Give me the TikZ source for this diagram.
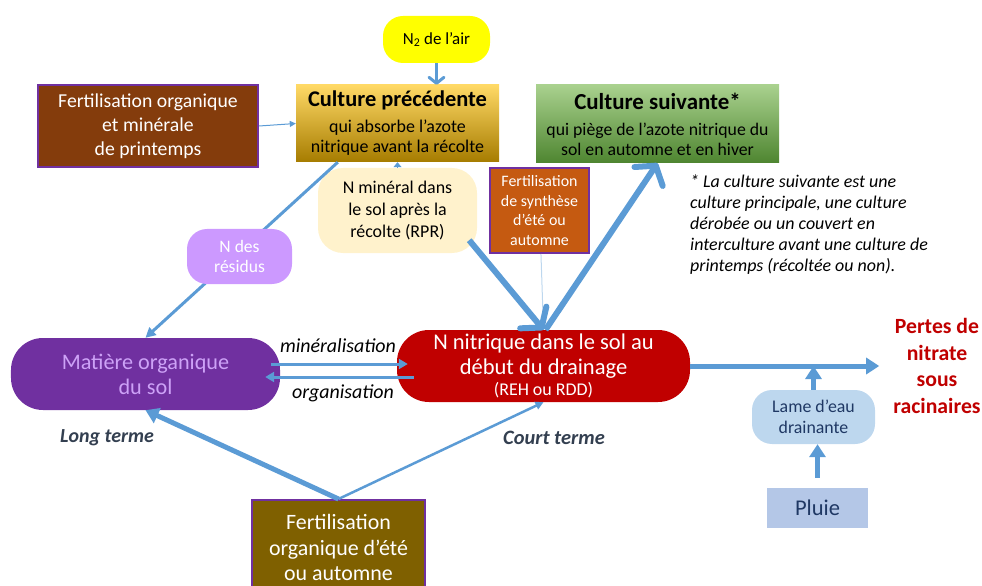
\documentclass[tikz,border=0pt]{standalone}
\usepackage{fontspec}
\setmainfont{Carlito}
\usetikzlibrary{arrows.meta}
\definecolor{flowblue}{HTML}{5B9BD5}
\definecolor{faintblue}{HTML}{BDD7EE}
\definecolor{airyellow}{HTML}{FFFF00}
\definecolor{precTop}{HTML}{FFD966}
\definecolor{precMid}{HTML}{FFC000}
\definecolor{precBot}{HTML}{A67C00}
\definecolor{suivTop}{HTML}{A9D18E}
\definecolor{suivMid}{HTML}{70AD47}
\definecolor{suivBot}{HTML}{4E8530}
\definecolor{fertbrown}{HTML}{843C0C}
\definecolor{fertorange}{HTML}{C55A11}
\definecolor{fertolive}{HTML}{7F6000}
\definecolor{fertpurple}{HTML}{7030A0}
\definecolor{rprcream}{HTML}{FFF2CC}
\definecolor{residlilac}{HTML}{CC99FF}
\definecolor{mospurple}{HTML}{7030A0}
\definecolor{mostext}{HTML}{CDA2F7}
\definecolor{nnred}{HTML}{C00000}
\definecolor{lameblue}{HTML}{BDD7EE}
\definecolor{pluieblue}{HTML}{B4C7E7}
\definecolor{navytext}{HTML}{1F3864}
\definecolor{termgray}{HTML}{333F50}
\newcommand\setfs[2]{\fontsize{#1}{#2}\selectfont}
\tikzset{
  boxnode/.style={rectangle, align=center, inner sep=0pt},
  pill/.style={boxnode, rounded corners=#1},
  fertbox/.style={boxnode, draw=fertpurple, line width=2bp, text=white},
  bigflow/.style={line width=6bp, -{Straight Barb[length=13bp,width=34bp,round]}},
  wideflow/.style={line width=5bp, -{Triangle[length=13bp,width=16bp]}},
  midflow/.style={line width=3bp, -{Triangle[length=9bp,width=10bp]}},
  thinflow/.style={line width=1bp, -{Triangle[length=6bp,width=6bp]}},
}
\begin{document}
\begin{tikzpicture}[x=1bp,y=-1bp]
      \useasboundingbox (0,0) rectangle (982,586);
      \clip (0,0) rectangle (982,586);
      \draw
        (436.5,39.5) node[pill=20bp, fill=airyellow, minimum width=107bp, minimum height=47bp, font=\setfs{17}{20}] (n2){N\textsubscript{2} de l’air}
        (397.5,123.5) node[boxnode, top color=precTop, middle color=precMid, bottom color=precBot, minimum width=203bp, minimum height=77bp, font=\setfs{18}{20}] (prec){{\setfs{22.5}{24}\bfseries Culture précédente}\\[6bp] qui absorbe l’azote\\ nitrique avant la récolte}
        (148,126) node[fertbox, fill=fertbrown, minimum width=220bp, minimum height=82bp, font=\setfs{19.8}{24}] (fertprint){Fertilisation organique\\ et minérale\\ de printemps}
        (657.5,124) node[boxnode, top color=suivTop, middle color=suivMid, bottom color=suivBot, minimum width=243bp, minimum height=78bp, font=\setfs{17.8}{20}] (suiv){{\setfs{23}{24}\bfseries Culture suivante*}\\[6bp] qui piège de l’azote nitrique du\\ sol en automne et en hiver}
        (690,175) node[anchor=north west, align=left, inner sep=0pt, font=\setfs{18}{21}\itshape] (note){* La culture suivante est une\\ culture principale, une culture\\ dérobée ou un couvert en\\ interculture avant une culture de\\ printemps (récoltée ou non).}
        (397.5,210.5) node[pill=25bp, fill=rprcream, minimum width=159bp, minimum height=85bp, font=\setfs{18}{22.5}] (rpr){N minéral dans\\ le sol après la\\ récolte (RPR)}
        (539.5,210.5) node[fertbox, fill=fertorange, minimum width=99bp, minimum height=85bp, font=\setfs{16}{20}] (fertsynth){Fertilisation\\ de synthèse\\ d’été ou\\ automne}
        (145.5,374) node[pill=32bp, fill=mospurple, text=mostext, minimum width=269bp, minimum height=72bp, font=\setfs{22.3}{25}] (mos){Matière organique\\ du sol}
        (543.5,366) node[pill=32bp, fill=nnred, text=white, minimum width=293bp, minimum height=72bp, font=\setfs{22.6}{25}] (nnit){N nitrique dans le sol au\\ début du drainage\\[-3bp] {\setfs{18}{18}(REH ou RDD)}}
        (937,366) node[boxnode, text=nnred, font=\setfs{21.8}{26.5}\bfseries] (pertes){Pertes de\\ nitrate\\ sous\\ racinaires}
        (813.5,417) node[pill=20bp, fill=lameblue, text=navytext, minimum width=123bp, minimum height=54bp, font=\setfs{17.9}{21}] (lame){Lame d’eau\\ drainante}
        (817.5,508) node[boxnode, fill=pluieblue, text=navytext, minimum width=101bp, minimum height=40bp, font=\setfs{22.6}{24}] (pluie){Pluie}
        (338.5,547.5) node[fertbox, fill=fertolive, minimum width=173bp, minimum height=95bp, font=\setfs{22}{26}] (fertete){Fertilisation\\ organique d’été\\ ou automne}
        (107,438) node[font=\setfs{20}{20}\bfseries\itshape, text=termgray] (longt){Long terme}
        (554,438) node[font=\setfs{20.5}{20}\bfseries\itshape, text=termgray] (courtt){Court terme}
        (338,346) node[font=\setfs{20}{20}\itshape] (minlab){minéralisation}
        (343,393) node[font=\setfs{20}{20}\itshape] (orglab){organisation};
      \begin{scope}[draw=flowblue]
        \draw[line width=3bp, -{Straight Barb[length=6bp,width=15bp,round]}] (n2) to (n2 |- prec.north);
        \draw[thinflow] (fertprint.east) to (prec.west);
        \draw[thinflow, -{Triangle[length=5bp,width=8bp]}] (rpr.north) to (prec.south);
        \draw[midflow, -{Triangle[length=10bp,width=10bp]}] ([xshift=42bp]prec.south west) to (mos.north);
        \draw[faintblue, line width=1bp] (fertsynth) to (nnit.north);
        \draw[bigflow] ([shift={(-8,-13)}]rpr.south east) to (nnit.north);
        \draw[bigflow] ([xshift=2bp]nnit.north) to (suiv.south);
        \draw[midflow] ([shift={(-9,-10)}]mos.east) to ([shift={(11,-2)}]nnit.west);
        \draw[midflow] ([shift={(17,11)}]nnit.west) to ([shift={(-15,3)}]mos.east);
        \draw[wideflow] (nnit.east) to ([xshift=-14bp]pertes.west);
        \draw[wideflow] (lame.north) to (lame.north |- nnit.east);
        \draw[wideflow, shorten <=10bp] (pluie.north) to (pluie.north |- lame.south);
        \draw[wideflow] (fertete.north) to (mos.south);
        \draw[line width=2.5bp, -{Triangle[length=8bp,width=8bp]}] (fertete.north) to (nnit.south);
      \end{scope}
      \draw (239.5,256.5) node[pill=20bp, fill=residlilac, text=white, minimum width=105bp, minimum height=55bp, font=\setfs{17.6}{21}] (residus){N des\\ résidus};
    \end{tikzpicture}
\end{document}
